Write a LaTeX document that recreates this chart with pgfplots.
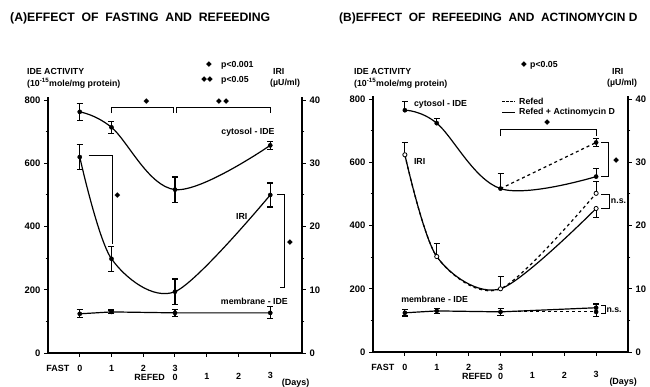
\documentclass[border=0pt]{standalone}
\usepackage{fontspec}
\setmainfont{Liberation Sans}
\newfontfamily\symfont{DejaVu Sans}
\usepackage{pgfplots}
\pgfplotsset{compat=1.18}
\newcommand{\st}{{\symfont\fontsize{7.5}{8}\selectfont ◆}}
\newcommand{\tl}{\bfseries\fontsize{9}{10}\selectfont}
\newcommand{\lb}{\bfseries\fontsize{8.8}{10}\selectfont}
\pgfplotsset{
  panel/.style={
    scale only axis, width=254bp, height=256bp,
    xmin=-1, xmax=7, clip=false,
    axis line style={line width=1.2bp},
    every tick/.style={black, line width=1bp},
    major tick length=4bp, minor tick length=2.5bp,
    tick align=outside,
    tick label style={font=\bfseries\fontsize{9.5}{10}\selectfont},
    /pgf/number format/assume math mode=true,
  },
  leftpanel/.style={panel, ymin=0, ymax=810,
    axis x line*=bottom, axis y line*=left,
    xtick={0,...,6}, xticklabels={},
    ytick={0,200,...,800}, minor ytick={100,300,500,700},
  },
  rightpanel/.style={panel, ymin=0, ymax=40.5,
    axis x line=none, axis y line*=right,
    ytick={0,10,...,40}, minor ytick={5,15,25,35},
  },
  curve/.style={black, line width=1.2bp, mark=none},
  pts/.style={black, only marks, mark=*, mark size=2.1bp,
    error bars/y explicit,
    error bars/error bar style={line width=1.1bp, solid},
    error bars/error mark options={rotate=90, mark size=3bp, line width=1.1bp, solid}},
  opn/.style={pts, mark options={fill=white, draw=black, line width=0.8bp}},
}
\begin{document}
\begin{tikzpicture}
\path[use as bounding box] (0,0) rectangle (650bp,387bp);
% ---------- titles and headers ----------
\node[anchor=west, font=\bfseries\fontsize{12.3}{13}\selectfont, inner sep=0] at (10bp,369bp) {(A)EFFECT\ \ OF\ \ FASTING\ \ AND\ \ REFEEDING};
\node[anchor=west, font=\bfseries\fontsize{12}{13}\selectfont, inner sep=0] at (339bp,369bp) {(B)EFFECT\ \ OF\ \ REFEEDING\ \ AND\ \ ACTINOMYCIN D};
\node[anchor=west, font=\lb, inner sep=0] at (27bp,316bp) {IDE ACTIVITY};
\node[anchor=west, font=\lb, inner sep=0] at (27bp,304bp) {(10\textsuperscript{-15}mole/mg protein)};
\node[anchor=west, font=\lb, inner sep=0] at (273bp,316bp) {IRI};
\node[anchor=west, font=\lb, inner sep=0] at (270bp,304bp) {(µU/ml)};
\node[anchor=center, inner sep=0] at (209bp,322bp) {\st};
\node[anchor=west, font=\lb, inner sep=0] at (221bp,322bp) {p<0.001};
\node[anchor=center, inner sep=0] at (207bp,307bp) {\st\st};
\node[anchor=west, font=\lb, inner sep=0] at (221bp,307bp) {p<0.05};
\node[anchor=west, font=\lb, inner sep=0] at (354bp,316bp) {IDE ACTIVITY};
\node[anchor=west, font=\lb, inner sep=0] at (354bp,304bp) {(10\textsuperscript{-15}mole/mg protein)};
\node[anchor=west, font=\lb, inner sep=0] at (612bp,316bp) {IRI};
\node[anchor=west, font=\lb, inner sep=0] at (607bp,304bp) {(µU/ml)};
\node[anchor=center, inner sep=0] at (524bp,322bp) {\st};
\node[anchor=west, font=\lb, inner sep=0] at (530bp,322bp) {p<0.05};
% ================= PANEL A =================
\begin{axis}[leftpanel, at={(48bp,34bp)}, anchor=south west]
\addplot[curve, smooth, tension=0.6] coordinates {(0,763) (1,714) (3,517) (6,657)};
\addplot[pts, error bars/y dir=both] coordinates {(0,763) +- (0,27) (1,714) +- (0,19) (3,517) +- (0,40) (6,657) +- (0,12)};
\addplot[curve] coordinates {(0,124) (1,130) (3,127) (6,127)};
\addplot[pts, error bars/y dir=both] coordinates {(0,124) +- (0,13) (1,130) +- (0,6) (3,127) +- (0,12) (6,127) +- (0,19)};
% annotations
\draw[line width=0.9bp] (axis cs:1,759) -- (axis cs:1,778) -- (axis cs:2.95,778) -- (axis cs:2.95,759);
\draw[line width=0.9bp] (axis cs:3.05,759) -- (axis cs:3.05,778) -- (axis cs:6,778) -- (axis cs:6,759);
\node[inner sep=0] at (axis cs:2.1,797) {\st};
\node[inner sep=0] at (axis cs:4.5,797) {\st\,\st};
\draw[line width=0.9bp] (axis cs:0.28,626) -- (axis cs:1.04,626) -- (axis cs:1.04,345);
\node[inner sep=0] at (axis cs:1.19,498) {\st};
\draw[line width=0.9bp] (axis cs:6.22,502) -- (axis cs:6.45,502) -- (axis cs:6.45,206) -- (axis cs:6.3,206);
\node[inner sep=0] at (axis cs:6.62,349) {\st};
\node[font=\lb, inner sep=0] at (axis cs:5.3,700) {cytosol - IDE};
\node[font=\lb, inner sep=0] at (axis cs:5.1,432) {IRI};
\node[font=\lb, inner sep=0] at (axis cs:5.5,162) {membrane - IDE};
% x tick labels
\node[font=\tl] at (axis cs:-0.69,0) [yshift=-15bp] {FAST};
\node[font=\tl] at (axis cs:0,0) [yshift=-15bp] {0};
\node[font=\tl] at (axis cs:1,0) [yshift=-15bp] {1};
\node[font=\tl] at (axis cs:2,0) [yshift=-15bp] {2};
\node[font=\tl] at (axis cs:3,0) [yshift=-15bp] {3};
\node[font=\tl] at (axis cs:2.2,0) [yshift=-24bp] {REFED};
\node[font=\tl] at (axis cs:3,0) [yshift=-24bp] {0};
\node[font=\tl] at (axis cs:4,0) [yshift=-23.5bp] {1};
\node[font=\tl] at (axis cs:5,0) [yshift=-23.5bp] {2};
\node[font=\tl] at (axis cs:6,0) [yshift=-22.5bp] {3};
\node[font=\tl] at (axis cs:6.8,0) [yshift=-30bp] {(Days)};
\end{axis}
\begin{axis}[rightpanel, at={(48bp,34bp)}, anchor=south west]
\addplot[curve, smooth] coordinates {(0,31.0) (1,14.9) (3,9.7) (6,25.0)};
\addplot[pts, error bars/y dir=both] coordinates {(0,31.0) +- (0,2.0) (1,14.9) +- (0,2.0) (3,9.7) +- (0,2.0) (6,25.0) +- (0,1.9)};
\end{axis}
% ================= PANEL B =================
\begin{axis}[leftpanel, width=255bp, at={(373bp,35bp)}, anchor=south west]
\addplot[curve, smooth, tension=0.6] coordinates {(0,765) (1,724) (3,517) (6,555)};
\addplot[curve, dashed] coordinates {(3,517) (6,663)};
\addplot[pts, error bars/y dir=plus] coordinates {(0,765) +- (0,29) (1,724) +- (0,16) (3,517) +- (0,48) (6,555) +- (0,26)};
\addplot[pts, error bars/y dir=both] coordinates {(6,663) +- (0,12)};
\addplot[curve] coordinates {(0,124) (1,130) (3,127) (6,140)};
\addplot[curve, dashed] coordinates {(3,127) (6,127)};
\addplot[pts, error bars/y dir=both] coordinates {(0,124) +- (0,10) (1,130) +- (0,8) (3,127) +- (0,12)};
\addplot[pts, error bars/y dir=plus] coordinates {(6,140) +- (0,12)};
\addplot[pts, error bars/y dir=minus] coordinates {(6,127) +- (0,16)};
% legend
\draw[line width=1bp, dashed, dash pattern=on 2.5bp off 1.5bp] (axis cs:3.05,794) -- (axis cs:3.45,794);
\node[font=\lb, anchor=west, inner sep=0] at (axis cs:3.58,794) {Refed};
\draw[line width=1bp] (axis cs:3.05,759) -- (axis cs:3.45,759);
\node[font=\lb, anchor=west, inner sep=0] at (axis cs:3.58,759) {Refed + Actinomycin D};
% annotations
\draw[line width=0.9bp] (axis cs:3,683) -- (axis cs:3,705) -- (axis cs:6,705) -- (axis cs:6,683);
\node[inner sep=0] at (axis cs:4.47,727) {\st};
\draw[line width=0.9bp] (axis cs:6.15,663) -- (axis cs:6.4,663) -- (axis cs:6.4,555) -- (axis cs:6.15,555);
\node[inner sep=0] at (axis cs:6.63,606) {\st};
\draw[line width=0.9bp] (axis cs:6.16,498) -- (axis cs:6.42,498) -- (axis cs:6.42,454) -- (axis cs:6.16,454);
\node[font=\lb, anchor=west, inner sep=0] at (axis cs:6.46,476) {n.s.};
\draw[line width=0.9bp] (axis cs:6.16,146) -- (axis cs:6.28,146) -- (axis cs:6.28,121) -- (axis cs:6.16,121);
\node[font=\lb, anchor=west, inner sep=0] at (axis cs:6.32,133) {n.s.};
\node[font=\lb, anchor=west, inner sep=0] at (axis cs:0.28,785) {cytosol - IDE};
\node[font=\lb, anchor=west, inner sep=0] at (axis cs:0.28,603) {IRI};
\node[font=\lb, anchor=west, inner sep=0] at (axis cs:-0.12,167) {membrane - IDE};
% x tick labels
\node[font=\tl] at (axis cs:-0.69,0) [yshift=-15bp] {FAST};
\node[font=\tl] at (axis cs:0,0) [yshift=-15bp] {0};
\node[font=\tl] at (axis cs:1,0) [yshift=-15bp] {1};
\node[font=\tl] at (axis cs:2,0) [yshift=-15bp] {2};
\node[font=\tl] at (axis cs:3,0) [yshift=-15bp] {3};
\node[font=\tl] at (axis cs:2.27,0) [yshift=-24bp] {REFED};
\node[font=\tl] at (axis cs:3,0) [yshift=-24bp] {0};
\node[font=\tl] at (axis cs:4,0) [yshift=-23.5bp] {1};
\node[font=\tl] at (axis cs:5,0) [yshift=-23.5bp] {2};
\node[font=\tl] at (axis cs:6,0) [yshift=-22.5bp] {3};
\node[font=\tl] at (axis cs:6.85,0) [yshift=-30bp] {(Days)};
\end{axis}
\begin{axis}[rightpanel, width=255bp, at={(373bp,35bp)}, anchor=south west]
\addplot[curve, smooth] coordinates {(0,31.2) (1,15.1) (3,10.0) (6,22.7)};
\addplot[curve, smooth, dashed] coordinates {(0,31.2) (1,15.1) (3,10.0) (6,25.1)};
\addplot[opn, error bars/y dir=plus] coordinates {(0,31.2) +- (0,1.9) (1,15.1) +- (0,2.0) (3,10.0) +- (0,2.0) (6,25.1) +- (0,1.9)};
\addplot[opn, error bars/y dir=minus] coordinates {(6,22.7) +- (0,1.4)};
\end{axis}
\end{tikzpicture}
\end{document}
